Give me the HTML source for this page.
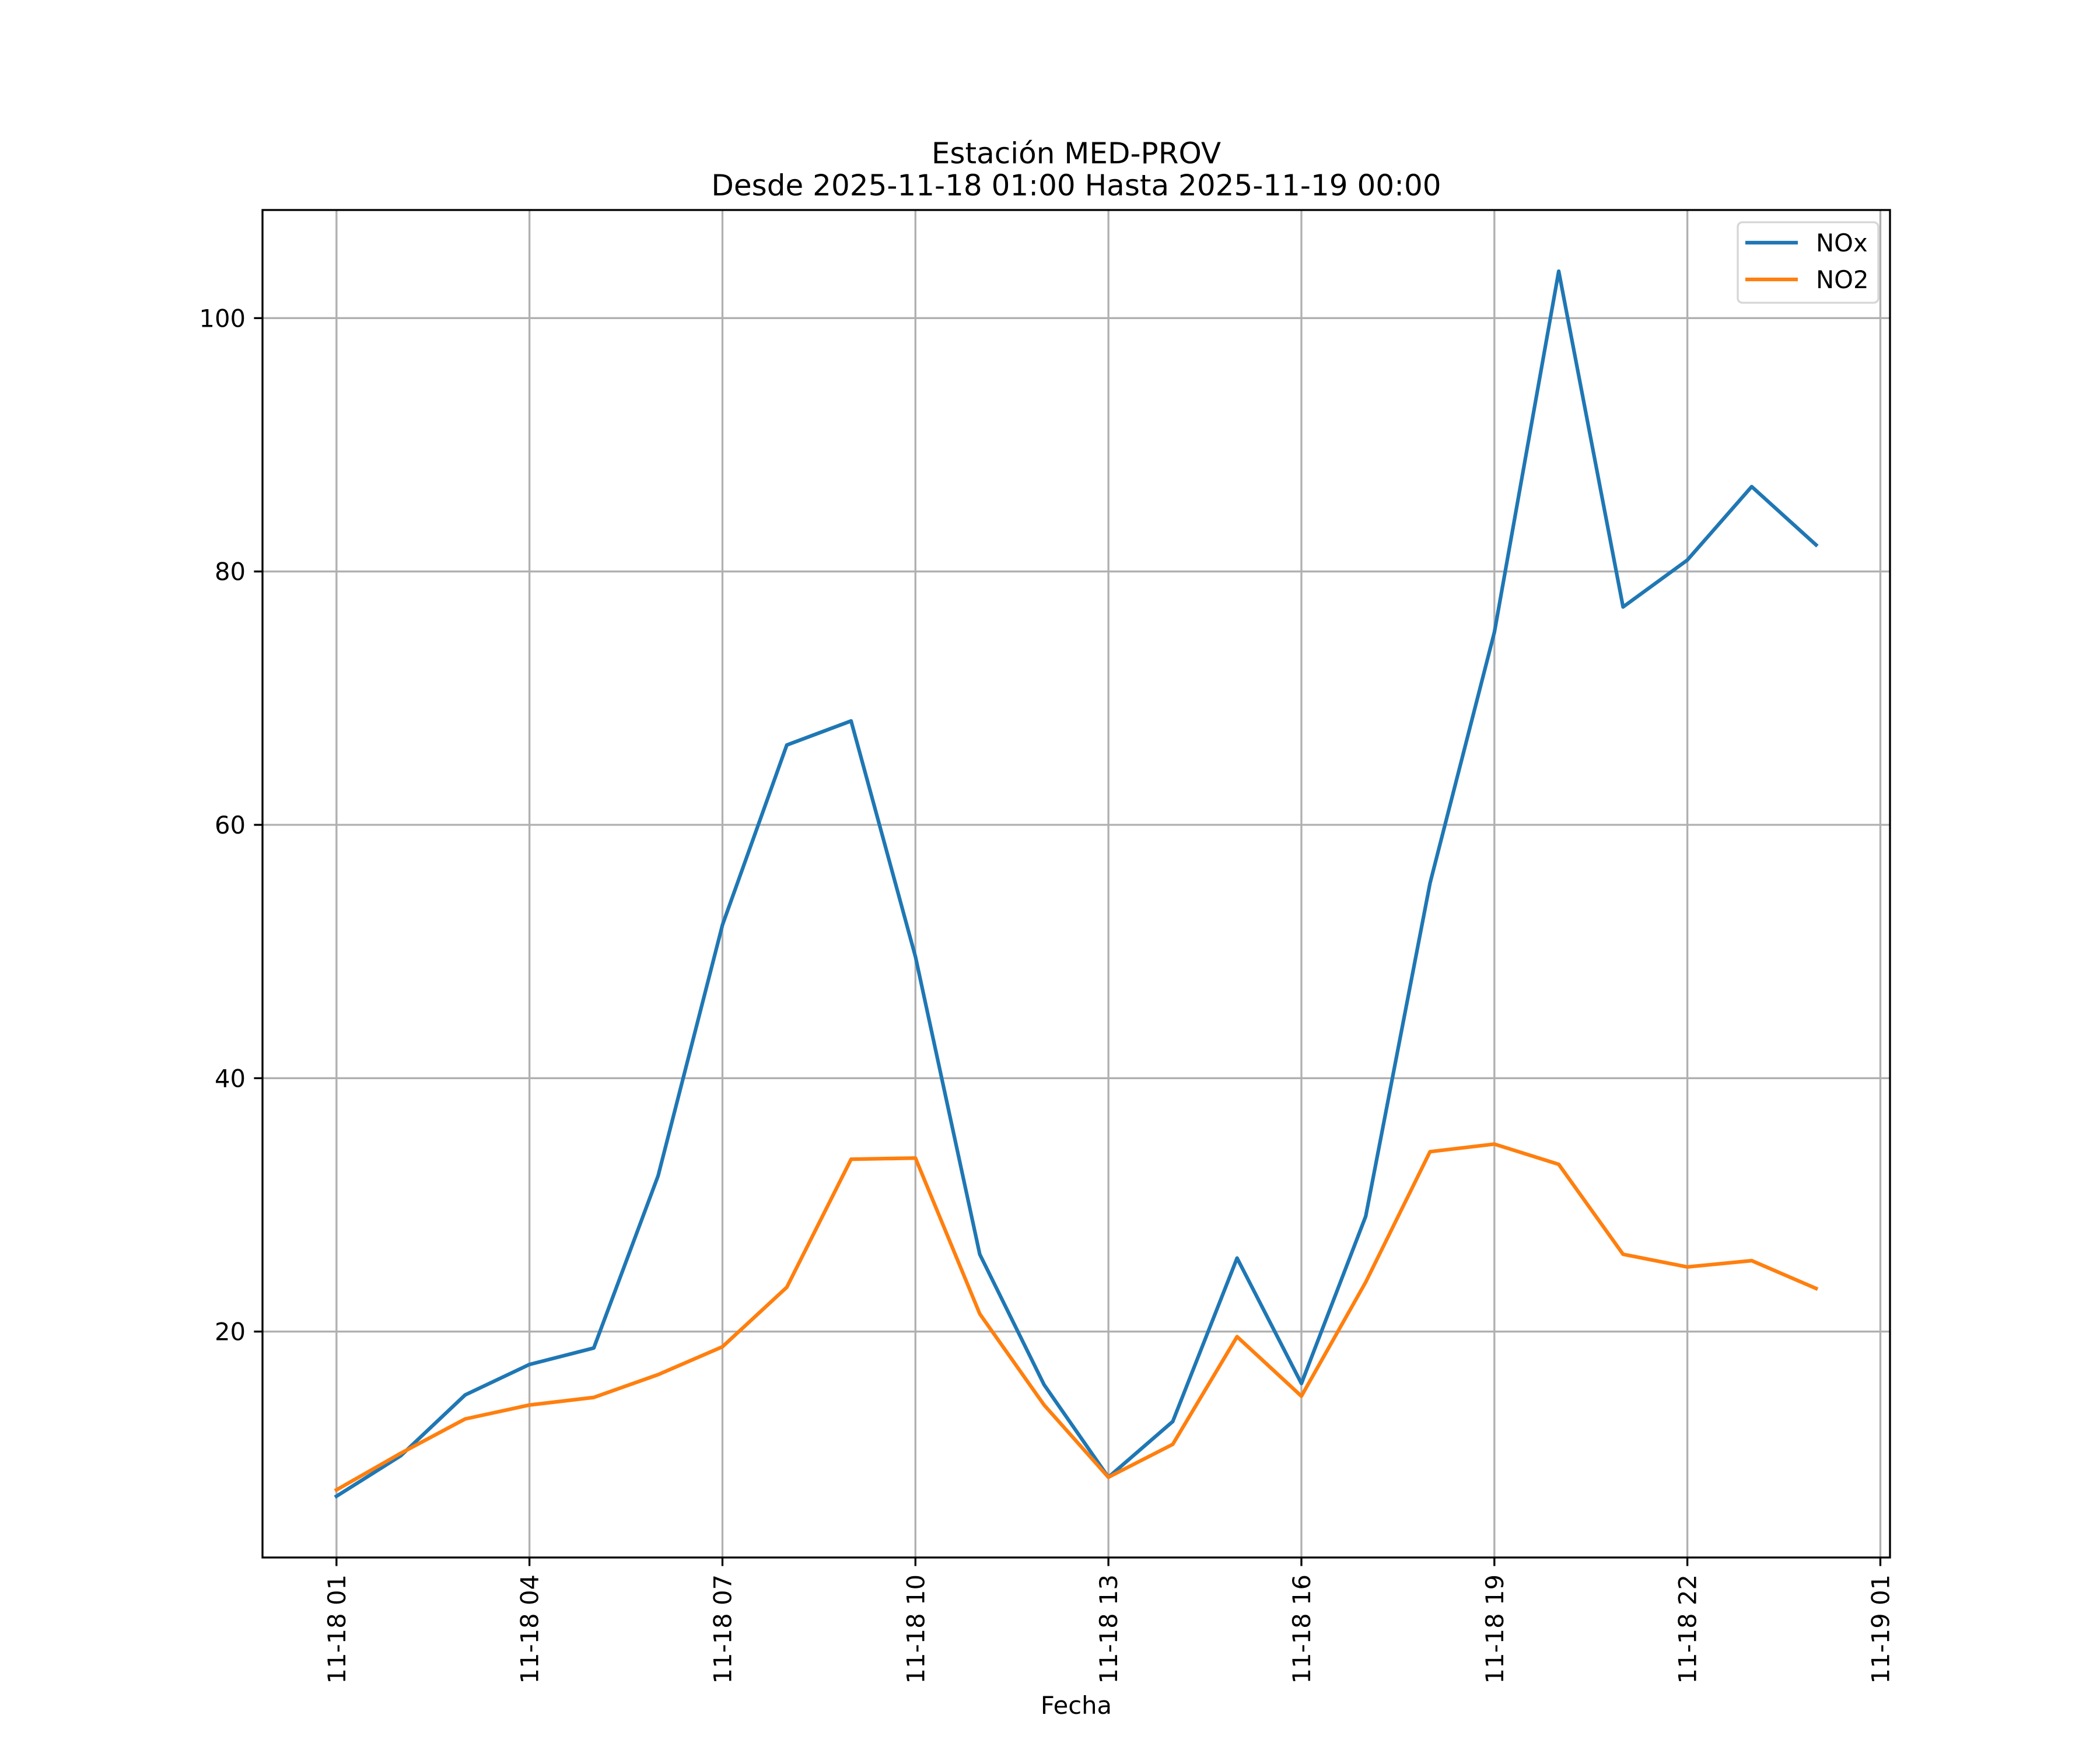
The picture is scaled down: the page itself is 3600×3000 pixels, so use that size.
<!DOCTYPE html>
<html><head><meta charset="utf-8"><style>
html,body{margin:0;padding:0;background:#fff}
svg{display:block}
text{font-family:"DejaVu Sans","Liberation Sans",sans-serif;fill:#000}
</style></head><body>
<svg id="chart" width="3600" height="3000" viewBox="0 0 3600 3000" xmlns="http://www.w3.org/2000/svg">
<rect width="3600" height="3000" fill="#fff"/>
<g id="grid"></g>
<g id="series"></g>
<rect x="450" y="360" width="2790" height="2310" fill="none" stroke="#000" stroke-width="3.33"/>
<g id="axes"></g>
<text x="1845" y="280" font-size="50" text-anchor="middle">Estación MED-PROV</text>
<text x="1845" y="335" font-size="50" text-anchor="middle">Desde 2025-11-18 01:00 Hasta 2025-11-19 00:00</text>
<text x="1845" y="2938" font-size="41.7" text-anchor="middle">Fecha</text>
<g>
<rect x="2979" y="381" width="241" height="138" rx="8" fill="#fff" fill-opacity="0.8" stroke="#d6d6d6" stroke-width="3.33"/>
<line x1="2992" y1="416" x2="3082" y2="416" stroke="#1f77b4" stroke-width="6.25"/>
<text x="3113" y="431" font-size="41.7">NOx</text>
<line x1="2992" y1="479" x2="3082" y2="479" stroke="#ff7f0e" stroke-width="6.25"/>
<text x="3113" y="494" font-size="41.7">NO2</text>
</g>
</svg>
<script>
const hours = [0,1,2,3,4,5,6,7,8,9,10,11,12,13,14,15,16,17,18,19,20,21,22,23];
const noxValues = [7.0,10.2,15.0,17.4,18.7,32.3,52.1,66.3,68.2,49.6,26.1,15.8,8.5,12.9,25.8,15.9,29.1,55.4,75.2,103.7,77.2,80.9,86.7,82.1];
const no2Values = [7.5,10.4,13.1,14.2,14.8,16.6,18.8,23.5,33.6,33.7,21.4,14.2,8.5,11.1,19.6,14.9,23.9,34.2,34.8,33.2,26.1,25.1,25.6,23.4];
const xTickHours = [0,3,6,9,12,15,18,21,24];
const xTickLabels = ["11-18 01","11-18 04","11-18 07","11-18 10","11-18 13","11-18 16","11-18 19","11-18 22","11-19 01"];
const yTickValues = [20,40,60,80,100];
const yTickLabels = ["20","40","60","80","100"];

const NS = "http://www.w3.org/2000/svg";
const L=450,R=3240,T=360,B=2670;
const allV = noxValues.concat(no2Values);
const vmin=Math.min(...allV), vmax=Math.max(...allV), vr=vmax-vmin;
const ymin=vmin-0.05*vr, ymax=vmax+0.05*vr;
const hmin=hours[0], hmax=hours[hours.length-1], hr=hmax-hmin;
const xmin=hmin-0.05*hr, xmax=hmax+0.05*hr;
function xs(h){return L+(h-xmin)/(xmax-xmin)*(R-L);}
function ys(v){return B-(v-ymin)/(ymax-ymin)*(B-T);}
function mk(tag,attrs,parent){const e=document.createElementNS(NS,tag);for(const k in attrs)e.setAttribute(k,attrs[k]);parent.appendChild(e);return e;}
const grid=document.getElementById('grid'), axes=document.getElementById('axes'), series=document.getElementById('series');

xTickHours.forEach((h,i)=>{
  const x=xs(h);
  const g=mk('line',{x1:x,y1:T,x2:x,y2:B,stroke:'#b0b0b0','stroke-width':3.33},grid);
  
  
  const t=mk('line',{x1:x,y1:B,x2:x,y2:B+14.6,stroke:'#000','stroke-width':3.33},axes);
  
  
  const tx=mk('text',{x:0,y:0,'font-size':41.7,'text-anchor':'end',transform:`translate(${x+15},${B+29}) rotate(-90)`},axes);
  tx.textContent=xTickLabels[i];
  
  
});
yTickValues.forEach((v,i)=>{
  const y=ys(v);
  const g=mk('line',{x1:L,y1:y,x2:R,y2:y,stroke:'#b0b0b0','stroke-width':3.33},grid);
  
  
  const t=mk('line',{x1:L-14.6,y1:y,x2:L,y2:y,stroke:'#000','stroke-width':3.33},axes);
  
  
  const tx=mk('text',{x:L-29,y:y+15,'font-size':41.7,'text-anchor':'end'},axes);
  tx.textContent=yTickLabels[i];
  
  
});
function drawLine(vals,color,name){
  const pts=vals.map((v,i)=>xs(hours[i]).toFixed(1)+','+ys(v).toFixed(1)).join(' ');
  const p=mk('polyline',{points:pts,fill:'none',stroke:color,'stroke-width':6.25,'stroke-linejoin':'round','stroke-linecap':'square'},series);
  
  
}
drawLine(noxValues,'#1f77b4','nox-line');
drawLine(no2Values,'#ff7f0e','no2-line');
</script>
</body></html>
